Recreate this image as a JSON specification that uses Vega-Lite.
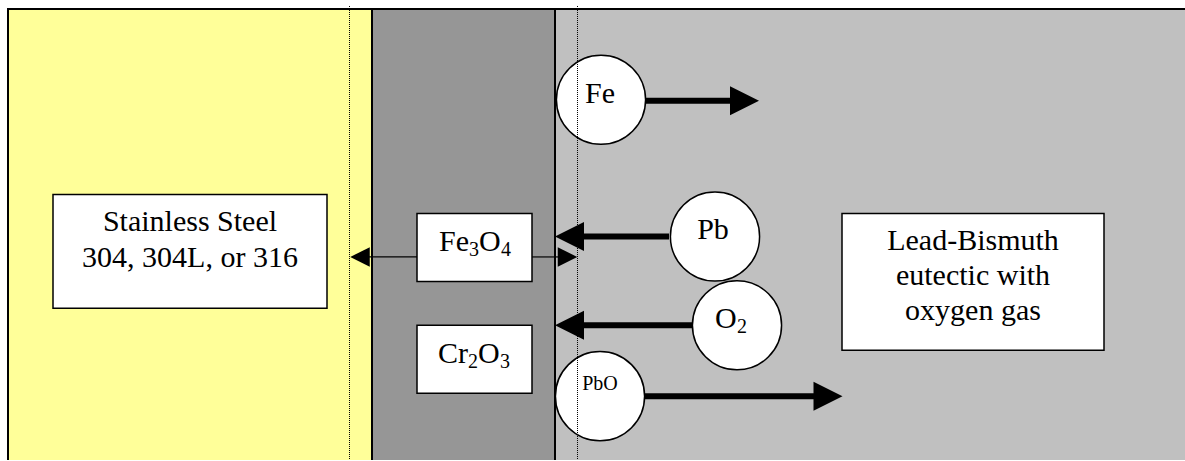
{
  "$schema": "https://vega.github.io/schema/vega-lite/v6.json",
  "width": 1185,
  "height": 461,
  "padding": 0,
  "autosize": {"type": "fit", "contains": "padding"},
  "background": "white",
  "config": {"view": {"stroke": null}},
  "datasets": {
    "bands": [
      {"region": "steel", "x0": 8, "x1": 372, "y0": 9, "y1": 470},
      {"region": "oxide", "x0": 372, "x1": 555, "y0": 9, "y1": 470},
      {"region": "lbe", "x0": 555, "x1": 1195, "y0": 9, "y1": 470}
    ],
    "guides": [
      {"x": 349.5, "y0": 6, "y1": 461},
      {"x": 577.5, "y0": 6, "y1": 461}
    ],
    "boxes": [
      {"name": "steel", "x0": 53, "x1": 327, "y0": 195, "y1": 309},
      {"name": "fe3o4", "x0": 417, "x1": 532, "y0": 214, "y1": 282},
      {"name": "cr2o3", "x0": 417, "x1": 532, "y0": 326, "y1": 394},
      {"name": "lbe", "x0": 842, "x1": 1104, "y0": 214, "y1": 351}
    ],
    "lines": [
      {"kind": "thick", "from": "Fe", "x0": 646, "x1": 735, "y": 101},
      {"kind": "thick", "from": "Pb", "x0": 669, "x1": 575, "y": 237},
      {"kind": "thick", "from": "O2", "x0": 692, "x1": 575, "y": 326},
      {"kind": "thick", "from": "PbO", "x0": 645, "x1": 820, "y": 397},
      {"kind": "thin", "from": "Fe3O4 left", "x0": 365, "x1": 417, "y": 257.5},
      {"kind": "thin", "from": "Fe3O4 right", "x0": 532, "x1": 562, "y": 257.5}
    ],
    "heads": [
      {"kind": "thick", "dir": "right", "x": 744.5, "y": 101},
      {"kind": "thick", "dir": "left", "x": 569.5, "y": 237},
      {"kind": "thick", "dir": "left", "x": 569.5, "y": 326},
      {"kind": "thick", "dir": "right", "x": 828, "y": 397},
      {"kind": "thin", "dir": "left", "x": 360, "y": 257.5},
      {"kind": "thin", "dir": "right", "x": 567.5, "y": 257.5}
    ],
    "circles": [
      {"species": "Fe", "x": 601, "y": 100},
      {"species": "Pb", "x": 715, "y": 237},
      {"species": "O2", "x": 737, "y": 326},
      {"species": "PbO", "x": 600, "y": 397}
    ],
    "labels": [
      {"text": "Stainless Steel", "x": 190, "y": 232},
      {"text": "304, 304L, or 316", "x": 190, "y": 268},
      {"text": "Lead-Bismuth", "x": 973, "y": 251},
      {"text": "eutectic with", "x": 973, "y": 286},
      {"text": "oxygen gas", "x": 973, "y": 321},
      {"text": "Fe", "x": 600, "y": 103},
      {"text": "Pb", "x": 713, "y": 240}
    ],
    "small": [
      {"text": "PbO", "x": 600, "y": 391}
    ],
    "formula": [
      {"text": "Fe", "x": 439, "y": 252},
      {"text": "O", "x": 479, "y": 252},
      {"text": "Cr", "x": 438, "y": 364},
      {"text": "O", "x": 478, "y": 364},
      {"text": "O", "x": 715, "y": 329}
    ],
    "subs": [
      {"text": "3", "x": 469, "y": 257},
      {"text": "4", "x": 501, "y": 257},
      {"text": "2", "x": 468, "y": 369},
      {"text": "3", "x": 500, "y": 369},
      {"text": "2", "x": 737, "y": 334}
    ]
  },
  "encoding": {},
  "layer": [
    {
      "data": {"name": "bands"},
      "mark": {"type": "rect", "stroke": "#000000", "strokeWidth": 2, "clip": true},
      "encoding": {
        "x": {"field": "x0", "type": "quantitative", "scale": {"domain": [0, 1185], "nice": false, "zero": false}, "axis": null},
        "x2": {"field": "x1"},
        "y": {"field": "y0", "type": "quantitative", "scale": {"domain": [0, 461], "nice": false, "zero": false, "reverse": true}, "axis": null},
        "y2": {"field": "y1"},
        "color": {"field": "region", "type": "nominal", "scale": {"domain": ["steel", "oxide", "lbe"], "range": ["#FFFF99", "#969696", "#C0C0C0"]}, "legend": null}
      }
    },
    {
      "data": {"name": "boxes"},
      "mark": {"type": "rect", "fill": "#FFFFFF", "stroke": "#000000", "strokeWidth": 1.5},
      "encoding": {
        "x": {"field": "x0", "type": "quantitative"},
        "x2": {"field": "x1"},
        "y": {"field": "y0", "type": "quantitative"},
        "y2": {"field": "y1"}
      }
    },
    {
      "data": {"name": "lines"},
      "transform": [{"filter": "datum.kind == 'thick'"}],
      "mark": {"type": "rule", "color": "#000000", "strokeWidth": 6},
      "encoding": {
        "x": {"field": "x0", "type": "quantitative"},
        "x2": {"field": "x1"},
        "y": {"field": "y", "type": "quantitative"}
      }
    },
    {
      "data": {"name": "lines"},
      "transform": [{"filter": "datum.kind == 'thin'"}],
      "mark": {"type": "rule", "color": "#000000", "strokeWidth": 1.2},
      "encoding": {
        "x": {"field": "x0", "type": "quantitative"},
        "x2": {"field": "x1"},
        "y": {"field": "y", "type": "quantitative"}
      }
    },
    {
      "data": {"name": "circles"},
      "mark": {"type": "point", "shape": "circle", "filled": false, "fill": "#FFFFFF", "fillOpacity": 1, "stroke": "#000000", "strokeWidth": 1.5, "opacity": 1, "size": 7950},
      "encoding": {
        "x": {"field": "x", "type": "quantitative"},
        "y": {"field": "y", "type": "quantitative"}
      }
    },
    {
      "data": {"name": "guides"},
      "mark": {"type": "rule", "color": "#000000", "strokeWidth": 1, "strokeDash": [1, 1]},
      "encoding": {
        "x": {"field": "x", "type": "quantitative"},
        "y": {"field": "y0", "type": "quantitative"},
        "y2": {"field": "y1"}
      }
    },
    {
      "data": {"name": "heads"},
      "transform": [{"filter": "datum.kind == 'thick'"}],
      "mark": {"type": "point", "filled": true, "color": "#000000", "opacity": 1, "size": 841, "strokeWidth": 0},
      "encoding": {
        "x": {"field": "x", "type": "quantitative"},
        "y": {"field": "y", "type": "quantitative"},
        "shape": {"field": "dir", "type": "nominal", "scale": {"domain": ["left", "right"], "range": ["M 1 -1 L -1 0 L 1 1 Z", "M -1 -1 L 1 0 L -1 1 Z"]}, "legend": null}
      }
    },
    {
      "data": {"name": "heads"},
      "transform": [{"filter": "datum.kind == 'thin'"}],
      "mark": {"type": "point", "filled": true, "color": "#000000", "opacity": 1, "size": 380, "strokeWidth": 0},
      "encoding": {
        "x": {"field": "x", "type": "quantitative"},
        "y": {"field": "y", "type": "quantitative"},
        "shape": {"field": "dir", "type": "nominal", "scale": {"domain": ["left", "right"], "range": ["M 1 -1 L -1 0 L 1 1 Z", "M -1 -1 L 1 0 L -1 1 Z"]}, "legend": null}
      }
    },
    {
      "data": {"name": "labels"},
      "mark": {"type": "text", "font": "Times New Roman, Liberation Serif, DejaVu Serif, serif", "fontSize": 30, "align": "center", "baseline": "alphabetic", "color": "#000000"},
      "encoding": {
        "x": {"field": "x", "type": "quantitative"},
        "y": {"field": "y", "type": "quantitative"},
        "text": {"field": "text", "type": "nominal"}
      }
    },
    {
      "data": {"name": "small"},
      "mark": {"type": "text", "font": "Times New Roman, Liberation Serif, DejaVu Serif, serif", "fontSize": 20, "align": "center", "baseline": "alphabetic", "color": "#000000"},
      "encoding": {
        "x": {"field": "x", "type": "quantitative"},
        "y": {"field": "y", "type": "quantitative"},
        "text": {"field": "text", "type": "nominal"}
      }
    },
    {
      "data": {"name": "formula"},
      "mark": {"type": "text", "font": "Times New Roman, Liberation Serif, DejaVu Serif, serif", "fontSize": 30, "align": "left", "baseline": "alphabetic", "color": "#000000"},
      "encoding": {
        "x": {"field": "x", "type": "quantitative"},
        "y": {"field": "y", "type": "quantitative"},
        "text": {"field": "text", "type": "nominal"}
      }
    },
    {
      "data": {"name": "subs"},
      "mark": {"type": "text", "font": "Times New Roman, Liberation Serif, DejaVu Serif, serif", "fontSize": 20, "align": "left", "baseline": "alphabetic", "color": "#000000"},
      "encoding": {
        "x": {"field": "x", "type": "quantitative"},
        "y": {"field": "y", "type": "quantitative"},
        "text": {"field": "text", "type": "nominal"}
      }
    }
  ]
}
